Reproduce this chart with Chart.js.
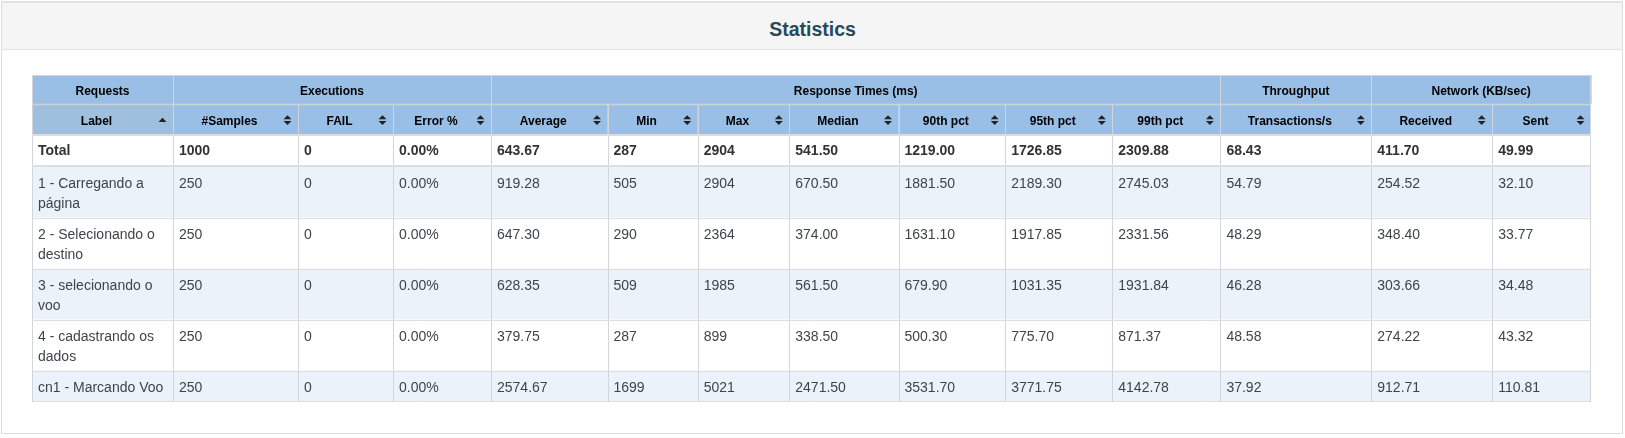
<!DOCTYPE html>
<html>
<head>
<meta charset="utf-8">
<title>Statistics</title>
<script src="https://cdn.jsdelivr.net/npm/chart.js@4.4.1/dist/chart.umd.min.js"></script>
<style>
  html, body { margin: 0; padding: 0; background: #fff; }
  body { width: 1625px; height: 438px; position: relative; overflow: hidden; font-family: "Liberation Sans", Arial, sans-serif; }
  #panel { position: absolute; left: 1px; top: 1px; width: 1620px; height: 430px; border: 1px solid #dddddd; border-top: 2px solid #e2e2e2; }
  #heading { position: absolute; left: 0; top: 0; right: 0; height: 46px; background: #f5f5f5; border-bottom: 1px solid #e3e3e3; }
  #title { position: absolute; left: 0; top: 19px; width: 1625px; margin: 0; text-align: center; font-size: 19.5px; line-height: 20px; font-weight: bold; color: #264a5a; }
  #stats { position: absolute; left: 0; top: 0; }
</style>
</head>
<body>
<div id="panel"><div id="heading"></div></div>
<h3 id="title">Statistics</h3>
<canvas id="stats" width="1625" height="438"></canvas>
<script>
// ═══ Data ═══
const groups = ["Requests", "Executions", "Response Times (ms)", "Throughput", "Network (KB/sec)"];
const groupSpans = [1, 3, 7, 1, 2];
const columns = ["Label", "#Samples", "FAIL", "Error %", "Average", "Min", "Max", "Median",
  "90th pct", "95th pct", "99th pct", "Transactions/s", "Received", "Sent"];

const labels = ["Total", "1 - Carregando a página", "2 - Selecionando o destino",
  "3 - selecionando o voo", "4 - cadastrando os dados", "cn1 - Marcando Voo"];
const samples = [1000, 250, 250, 250, 250, 250];
const fails = [0, 0, 0, 0, 0, 0];
const errorPct = [0, 0, 0, 0, 0, 0];
const average = [643.67, 919.28, 647.30, 628.35, 379.75, 2574.67];
const minTime = [287, 505, 290, 509, 287, 1699];
const maxTime = [2904, 2904, 2364, 1985, 899, 5021];
const median = [541.50, 670.50, 374.00, 561.50, 338.50, 2471.50];
const pct90 = [1219.00, 1881.50, 1631.10, 679.90, 500.30, 3531.70];
const pct95 = [1726.85, 2189.30, 1917.85, 1031.35, 775.70, 3771.75];
const pct99 = [2309.88, 2745.03, 2331.56, 1931.84, 871.37, 4142.78];
const throughput = [68.43, 54.79, 48.29, 46.28, 48.58, 37.92];
const received = [411.70, 254.52, 348.40, 303.66, 274.22, 912.71];
const sent = [49.99, 32.10, 33.77, 34.48, 43.32, 110.81];

// ═══ Layout (px) ═══
const colWidths = [141, 125, 95, 98, 116.5, 90.2, 91.6, 109.2, 106.7, 107.1, 108.1, 150.9, 120.9, 98.8];
const headHeights = [29, 30];
const totalRowHeight = 32.5;
const lineHeight = 20;
const cellPad = 6;
const FONT = '"Liberation Sans", Arial, sans-serif';

const fixed2 = (v) => v.toFixed(2);
const int = (v) => String(v);
const rows = labels.map((l, i) => [
  l, int(samples[i]), int(fails[i]), fixed2(errorPct[i]) + "%", fixed2(average[i]),
  int(minTime[i]), int(maxTime[i]), fixed2(median[i]), fixed2(pct90[i]), fixed2(pct95[i]),
  fixed2(pct99[i]), fixed2(throughput[i]), fixed2(received[i]), fixed2(sent[i]),
]);

// word wrap cells to the column width
const mctx = document.createElement("canvas").getContext("2d");
function wrap(text, width, bold) {
  mctx.font = `${bold ? "bold " : ""}14px ${FONT}`;
  const words = text.split(" ");
  const lines = [];
  let cur = "";
  words.forEach((w) => {
    const test = cur ? cur + " " + w : w;
    if (cur && mctx.measureText(test).width > width - 2 * cellPad + 1) { lines.push(cur); cur = w; }
    else cur = test;
  });
  if (cur) lines.push(cur);
  return lines;
}
const wrapped = rows.map((r, i) => r.map((t, c) => wrap(t, colWidths[c], i === 0)));
const bodyHeights = wrapped.map((r, i) =>
  i === 0 ? totalRowHeight : Math.max(...r.map((l) => l.length)) * lineHeight + 11);

const xEdges = [0];
colWidths.forEach((w) => xEdges.push(xEdges[xEdges.length - 1] + w));
const yEdges = [0];
[...headHeights, ...bodyHeights].forEach((h) => yEdges.push(yEdges[yEdges.length - 1] + h));
const tableW = xEdges[xEdges.length - 1];
const tableH = yEdges[yEdges.length - 1];

function tri(ctx, pts) {
  ctx.beginPath();
  ctx.moveTo(pts[0][0], pts[0][1]);
  ctx.lineTo(pts[1][0], pts[1][1]);
  ctx.lineTo(pts[2][0], pts[2][1]);
  ctx.closePath();
  ctx.fill();
}

const tablePlugin = {
  id: "statsTable",
  afterDraw(chart) {
    const { ctx } = chart;
    const xs = chart.scales.x, ys = chart.scales.y;
    const X = (v) => xs.getPixelForValue(v);
    const Y = (v) => ys.getPixelForValue(v);
    ctx.save();

    // header row 1 (groups)
    let c0 = 0;
    groups.forEach((g, gi) => {
      const c1 = c0 + groupSpans[gi];
      const l = X(xEdges[c0]), r = X(xEdges[c1]);
      ctx.fillStyle = "#99bfe6";
      ctx.fillRect(l, Y(yEdges[0]), r - l, Y(yEdges[1]) - Y(yEdges[0]));
      ctx.fillStyle = "#000";
      ctx.font = `bold 12px ${FONT}`;
      ctx.textAlign = "center";
      ctx.textBaseline = "alphabetic";
      ctx.fillText(g, (l + r) / 2, Y(yEdges[0]) + 19.8);
      c0 = c1;
    });

    // header row 2 (columns)
    columns.forEach((name, c) => {
      const l = X(xEdges[c]), r = X(xEdges[c + 1]);
      const t = Y(yEdges[1]), b = Y(yEdges[2]);
      ctx.fillStyle = c === 0 ? "#9fbfdf" : "#99bfe6";
      ctx.fillRect(l, t, r - l, b - t);
      ctx.fillStyle = "#000";
      ctx.font = `bold 12px ${FONT}`;
      ctx.textAlign = "center";
      ctx.fillText(name, (l + cellPad + r - 18) / 2, t + 20.6);
      const ix = r - 10.5, iy = t + 16;
      ctx.fillStyle = "#222";
      if (c === 0) {
        tri(ctx, [[ix - 4, iy + 2], [ix + 4, iy + 2], [ix, iy - 2.2]]);
      } else {
        tri(ctx, [[ix - 4, iy - 0.7], [ix + 4, iy - 0.7], [ix, iy - 4.8]]);
        tri(ctx, [[ix - 4, iy + 0.9], [ix + 4, iy + 0.9], [ix, iy + 5]]);
      }
    });

    // body
    wrapped.forEach((r, i) => {
      const t = Y(yEdges[i + 2]), b = Y(yEdges[i + 3]);
      ctx.fillStyle = i % 2 === 1 ? "#ebf2fa" : "#ffffff";
      ctx.fillRect(X(0), t, X(tableW) - X(0), b - t);
      ctx.fillStyle = i === 0 ? "#333333" : "#3f444c";
      ctx.font = `${i === 0 ? "bold " : ""}14px ${FONT}`;
      ctx.textAlign = "left";
      r.forEach((lines, c) => {
        lines.forEach((ln, k) => ctx.fillText(ln, X(xEdges[c]) + cellPad, t + 21 + k * lineHeight));
      });
    });

    // grid lines
    const px = (v) => Math.round(v) + 0.5;
    ctx.lineWidth = 1;
    // vertical lines, group row
    ctx.strokeStyle = "#d2d6dc";
    ctx.beginPath();
    let acc = 0;
    [0, ...groupSpans].forEach((s) => {
      acc += s;
      const x = px(X(xEdges[acc]));
      ctx.moveTo(x, Y(yEdges[0])); ctx.lineTo(x, Y(yEdges[1]));
    });
    ctx.moveTo(px(X(0)), Y(yEdges[0])); ctx.lineTo(px(X(0)), Y(yEdges[1]));
    ctx.stroke();
    // vertical lines, column row and body
    ctx.beginPath();
    xEdges.forEach((e, c) => {
      const x = c === xEdges.length - 1 ? px(X(e) - 1) : px(X(e));
      ctx.moveTo(x, Y(yEdges[1])); ctx.lineTo(x, Y(tableH));
    });
    ctx.moveTo(px(X(tableW) - 1), Y(yEdges[0])); ctx.lineTo(px(X(tableW) - 1), Y(yEdges[1]));
    ctx.stroke();
    // horizontal lines
    const hline = (yv, w, color) => {
      ctx.strokeStyle = color;
      ctx.lineWidth = w;
      const yy = w % 2 ? px(yv) : Math.round(yv);
      ctx.beginPath();
      ctx.moveTo(X(0), yy); ctx.lineTo(X(tableW), yy);
      ctx.stroke();
    };
    hline(Y(yEdges[0]), 1, "#d2d6dc");
    hline(Y(yEdges[1]), 1.5, "#cfd3d8");
    hline(Y(yEdges[2]) + 0.5, 2, "#dddddd");
    hline(Y(yEdges[3]) - 0.5, 2, "#dddddd");
    for (let k = 4; k < yEdges.length; k++) hline(Y(yEdges[k]) - (k === yEdges.length - 1 ? 1 : 0), 1, "#dddddd");

    ctx.restore();
  },
};

new Chart(document.getElementById("stats"), {
  type: "scatter",
  data: { datasets: [] },
  options: {
    responsive: false,
    animation: false,
    events: [],
    layout: { padding: { left: 32, top: 75, right: 1625 - 32 - tableW, bottom: 438 - 75 - tableH } },
    plugins: { legend: { display: false }, tooltip: { enabled: false } },
    scales: {
      x: { type: "linear", display: false, min: 0, max: tableW },
      y: { type: "linear", display: false, min: 0, max: tableH, reverse: true },
    },
  },
  plugins: [tablePlugin],
});
</script>
</body>
</html>
